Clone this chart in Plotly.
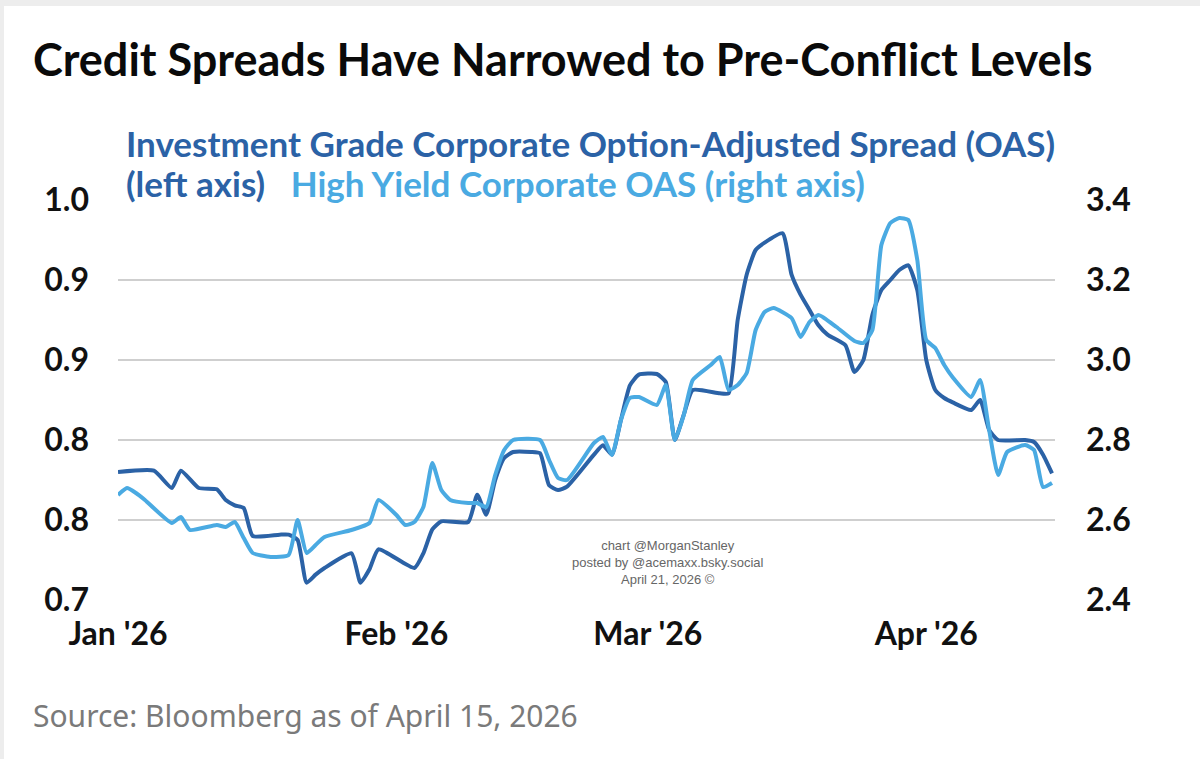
import plotly.graph_objects as go

# ---------------- data ----------------
ig_dates = ["2026-01-01", "2026-01-05", "2026-01-07", "2026-01-08", "2026-01-10", "2026-01-12",
            "2026-01-13", "2026-01-14", "2026-01-15", "2026-01-16", "2026-01-19", "2026-01-20",
            "2026-01-21", "2026-01-22", "2026-01-23", "2026-01-24", "2026-01-27", "2026-01-28",
            "2026-01-29", "2026-01-30", "2026-02-03", "2026-02-04", "2026-02-05", "2026-02-06",
            "2026-02-09", "2026-02-10", "2026-02-11", "2026-02-12", "2026-02-13", "2026-02-14",
            "2026-02-16", "2026-02-17", "2026-02-18", "2026-02-19", "2026-02-20", "2026-02-23",
            "2026-02-24", "2026-02-25", "2026-02-26", "2026-02-27", "2026-02-28", "2026-03-02",
            "2026-03-03", "2026-03-04", "2026-03-05", "2026-03-06", "2026-03-09", "2026-03-10",
            "2026-03-11", "2026-03-12", "2026-03-13", "2026-03-14", "2026-03-16", "2026-03-17",
            "2026-03-18", "2026-03-19", "2026-03-20", "2026-03-21", "2026-03-23", "2026-03-24",
            "2026-03-25", "2026-03-26", "2026-03-27", "2026-03-28", "2026-03-29", "2026-03-30",
            "2026-03-31", "2026-04-01", "2026-04-02", "2026-04-03", "2026-04-04", "2026-04-06",
            "2026-04-07", "2026-04-08", "2026-04-09", "2026-04-12", "2026-04-13", "2026-04-14",
            "2026-04-15"]
ig_oas = [0.796, 0.797, 0.784, 0.797, 0.784, 0.783,
          0.775, 0.771, 0.769, 0.748, 0.749, 0.749,
          0.745, 0.713, 0.719, 0.724, 0.735, 0.713,
          0.723, 0.738, 0.724, 0.735, 0.753, 0.759,
          0.7585, 0.779, 0.764, 0.790, 0.8065, 0.811,
          0.811, 0.810, 0.786, 0.7825, 0.785, 0.809,
          0.816, 0.809, 0.835, 0.861, 0.869, 0.8695,
          0.8635, 0.820, 0.839, 0.8575, 0.855, 0.855,
          0.910, 0.944, 0.9625, 0.968, 0.975, 0.944,
          0.929, 0.9175, 0.906, 0.899, 0.891, 0.871,
          0.880, 0.914, 0.9325, 0.940, 0.9475, 0.951,
          0.9325, 0.880, 0.8575, 0.8515, 0.848, 0.8425,
          0.850, 0.8275, 0.820, 0.820, 0.8185, 0.809,
          0.795]

hy_dates = ["2026-01-01", "2026-01-02", "2026-01-03", "2026-01-04", "2026-01-07", "2026-01-08",
            "2026-01-09", "2026-01-12", "2026-01-13", "2026-01-14", "2026-01-15", "2026-01-16",
            "2026-01-18", "2026-01-20", "2026-01-21", "2026-01-22", "2026-01-23", "2026-01-24",
            "2026-01-27", "2026-01-29", "2026-01-30", "2026-02-01", "2026-02-02", "2026-02-03",
            "2026-02-04", "2026-02-05", "2026-02-06", "2026-02-07", "2026-02-09", "2026-02-10",
            "2026-02-11", "2026-02-12", "2026-02-13", "2026-02-14", "2026-02-17", "2026-02-18",
            "2026-02-19", "2026-02-20", "2026-02-23", "2026-02-24", "2026-02-25", "2026-02-26",
            "2026-02-27", "2026-02-28", "2026-03-02", "2026-03-03", "2026-03-04", "2026-03-05",
            "2026-03-06", "2026-03-08", "2026-03-09", "2026-03-10", "2026-03-11", "2026-03-12",
            "2026-03-13", "2026-03-14", "2026-03-15", "2026-03-17", "2026-03-18", "2026-03-19",
            "2026-03-20", "2026-03-22", "2026-03-24", "2026-03-25", "2026-03-26", "2026-03-27",
            "2026-03-28", "2026-03-29", "2026-03-30", "2026-03-31", "2026-04-01", "2026-04-02",
            "2026-04-03", "2026-04-04", "2026-04-06", "2026-04-07", "2026-04-08", "2026-04-09",
            "2026-04-10", "2026-04-12", "2026-04-13", "2026-04-14", "2026-04-15"]
hy_oas = [2.6625, 2.680, 2.6675, 2.650, 2.5925, 2.6075,
          2.575, 2.5875, 2.5825, 2.595, 2.555, 2.5175,
          2.5075, 2.5125, 2.600, 2.5175, 2.5375, 2.5575,
          2.575, 2.5925, 2.650, 2.6125, 2.5875, 2.595,
          2.6325, 2.7425, 2.675, 2.650, 2.6425, 2.6425,
          2.6325, 2.7125, 2.775, 2.800, 2.800, 2.750,
          2.705, 2.700, 2.7925, 2.8075, 2.7625, 2.850,
          2.905, 2.9075, 2.8875, 2.9375, 2.800, 2.8625,
          2.950, 2.9875, 3.0075, 2.925, 2.9375, 2.9675,
          3.075, 3.120, 3.130, 3.105, 3.0575, 3.095,
          3.1125, 3.0825, 3.0475, 3.0425, 3.075, 3.2875,
          3.3425, 3.355, 3.350, 3.250, 3.050, 3.030,
          2.9875, 2.955, 2.9075, 2.950, 2.825, 2.7125,
          2.770, 2.7875, 2.775, 2.6825, 2.6925]

x_tick_vals = ["2026-01-01", "2026-02-01", "2026-03-01", "2026-04-01"]
x_tick_text = ["Jan '26", "Feb '26", "Mar '26", "Apr '26"]

# ---------------- styles ----------------
DARK = "#2B62A6"
LIGHT = "#4AAAE2"
GRID = "#CFCFCF"
TICKFONT = dict(family="Lato, Roboto, sans-serif", size=32, color="#111111", weight="bold")

fig = go.Figure()
fig.add_trace(go.Scatter(x=ig_dates, y=ig_oas, mode="lines", name="IG OAS",
                         line=dict(color=DARK, width=4, shape="spline", smoothing=0.5),
                         yaxis="y"))
fig.add_trace(go.Scatter(x=hy_dates, y=hy_oas, mode="lines", name="HY OAS",
                         line=dict(color=LIGHT, width=4, shape="spline", smoothing=0.5),
                         yaxis="y2"))

fig.update_layout(
    width=1200, height=759,
    margin=dict(l=118, r=145, t=200, b=159, pad=0),
    paper_bgcolor="white", plot_bgcolor="white",
    showlegend=False,
    title=dict(text="<b>Credit Spreads Have Narrowed to Pre-Conflict Levels</b>",
               x=33 / 1200, xanchor="left", xref="container",
               y=1 - 60 / 759, yanchor="middle",
               font=dict(family="Lato, Roboto, sans-serif", size=45, color="#0a0a0a")),
    xaxis=dict(type="date", range=["2026-01-01", "2026-04-15 08:00"],
               tickvals=x_tick_vals, ticktext=x_tick_text,
               showgrid=False, zeroline=False, showline=False, ticks="",
               tickfont=TICKFONT, ticklabelstandoff=12),
    yaxis=dict(range=[0.70, 1.00], tick0=0.70, dtick=0.06, tickformat=".1f",
               showgrid=True, gridcolor=GRID, gridwidth=2, zeroline=False,
               showline=False, ticks="", tickfont=TICKFONT, ticklabelstandoff=28),
    yaxis2=dict(range=[2.4, 3.4], tick0=2.4, dtick=0.2, tickformat=".1f",
                overlaying="y", side="right", showgrid=False, zeroline=False,
                showline=False, ticks="", tickfont=TICKFONT, ticklabelstandoff=30),
)

# thin grey frame strips at the top and left edges of the image
fig.add_shape(type="rect", xref="paper", yref="paper", layer="below",
              x0=-118 / 937, x1=1082 / 937, y0=(600 - 6) / 400, y1=600 / 400,
              fillcolor="#EDEDED", line=dict(width=0))
fig.add_shape(type="rect", xref="paper", yref="paper", layer="below",
              x0=-118 / 937, x1=(4 - 118) / 937, y0=-159 / 400, y1=600 / 400,
              fillcolor="#EDEDED", line=dict(width=0))

LEGFONT = dict(family="Lato, Roboto, sans-serif", size=35, weight="bold")
fig.add_annotation(xref="paper", yref="paper", x=(124 - 118) / 937, y=(600 - 143) / 400,
                   xanchor="left", yanchor="middle", showarrow=False,
                   text="Investment Grade Corporate Option-Adjusted Spread (OAS)",
                   font=dict(color=DARK, **LEGFONT))
fig.add_annotation(xref="paper", yref="paper", x=(124 - 118) / 937, y=(600 - 183) / 400,
                   xanchor="left", yanchor="middle", showarrow=False,
                   text=f"<span style='color:{DARK}'>(left axis)</span>&nbsp;&nbsp;&nbsp;"
                        f"<span style='color:{LIGHT}'>High Yield Corporate OAS (right axis)</span>",
                   font=dict(color=DARK, **LEGFONT))

fig.add_annotation(xref="paper", yref="paper", x=(31 - 118) / 937, y=(600 - 715) / 400,
                   xanchor="left", yanchor="middle", showarrow=False,
                   text="Source: Bloomberg as of April 15, 2026",
                   font=dict(family="Noto Sans, sans-serif", size=30, color="#7a7a7a"))

fig.add_annotation(xref="paper", yref="paper", x=(668 - 118) / 937, y=(600 - 562) / 400,
                   xanchor="center", yanchor="middle", showarrow=False, align="center",
                   text="chart @MorganStanley<br>posted by @acemaxx.bsky.social<br>April 21, 2026 ©",
                   font=dict(family="Liberation Sans, Arial, sans-serif", size=13, color="#666666"))

fig.write_html("out.html")
